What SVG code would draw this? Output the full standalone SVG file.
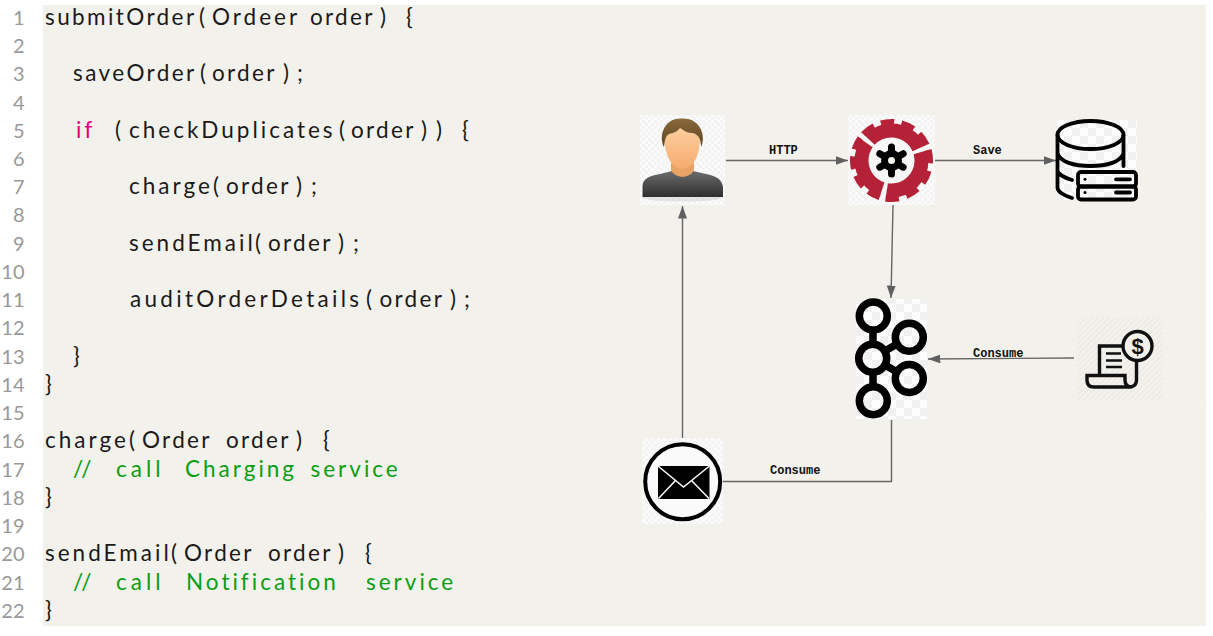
<svg xmlns="http://www.w3.org/2000/svg" width="1213" height="636" viewBox="0 0 1213 636">
<style>
.code{font-family:Lato,"Open Sans",sans-serif;font-weight:400;font-size:22.500px;fill:#1a1a1a;letter-spacing:3px}
.ord{letter-spacing:2.300px}
.tight{letter-spacing:2.400px}
.com{fill:#0a9e14}
.kw{fill:#e5007d}
.num{font-family:Lato,"Open Sans",sans-serif;font-weight:400;font-size:20px;fill:#999;text-anchor:end}
.lbl{font-family:"Liberation Mono",monospace;font-weight:700;font-size:12px;fill:#111}
.conn{fill:none;stroke:#666;stroke-width:1.4}
.k{fill:none;stroke:#000;stroke-width:7.500}
.db{fill:none;stroke:#000;stroke-width:3.800;stroke-linecap:round}
</style>
<defs>
<marker id="ah" markerUnits="userSpaceOnUse" markerWidth="13" markerHeight="10" refX="12.5" refY="4.5" orient="auto"><path d="M0 0L12.5 4.5L0 9z" fill="#606060"/></marker>
<pattern id="chk" width="16" height="16" patternUnits="userSpaceOnUse"><rect width="16" height="16" fill="#fdfdfd"/><rect width="8" height="8" fill="#f0f0f0"/><rect x="8" y="8" width="8" height="8" fill="#f0f0f0"/></pattern>
<pattern id="chk2" width="6" height="6" patternUnits="userSpaceOnUse"><rect width="6" height="6" fill="#fbfbfb"/><rect width="3" height="3" fill="#f3f3f3"/><rect x="3" y="3" width="3" height="3" fill="#f3f3f3"/></pattern>
<pattern id="hatch" width="4" height="4" patternUnits="userSpaceOnUse" patternTransform="rotate(45)"><rect width="4" height="4" fill="#f3f2ec"/><rect width="2" height="4" fill="#ecebe5"/></pattern>
<linearGradient id="hair" x1="0" y1="0" x2="0" y2="1"><stop offset="0" stop-color="#8a6a3c"/><stop offset="1" stop-color="#5f4523"/></linearGradient>
<linearGradient id="face" x1="0" y1="0" x2="0" y2="1"><stop offset="0" stop-color="#fdd0a2"/><stop offset="1" stop-color="#f6ac6e"/></linearGradient>
<linearGradient id="body" x1="0" y1="0" x2="0" y2="1"><stop offset="0" stop-color="#6c6c6c"/><stop offset="1" stop-color="#2f2f2f"/></linearGradient>
</defs>
<rect width="1213" height="636" fill="#fff"/>
<rect x="43" y="5" width="1163" height="621" fill="#f2f1eb"/>
<path d="M43 401.500H1206M43 514.500H1206" stroke="#f4f3ee" stroke-width="1"/>
<g id="line-numbers">
<text class="num" x="24.500" y="25">1</text><text class="num" x="24.500" y="53">2</text><text class="num" x="24.500" y="81">3</text><text class="num" x="24.500" y="110">4</text><text class="num" x="24.500" y="138">5</text><text class="num" x="24.500" y="166">6</text><text class="num" x="24.500" y="194">7</text><text class="num" x="24.500" y="222">8</text><text class="num" x="24.500" y="251">9</text><text class="num" x="24.500" y="279">10</text><text class="num" x="24.500" y="307">11</text><text class="num" x="24.500" y="335">12</text><text class="num" x="24.500" y="364">13</text><text class="num" x="24.500" y="392">14</text><text class="num" x="24.500" y="420">15</text><text class="num" x="24.500" y="448">16</text><text class="num" x="24.500" y="477">17</text><text class="num" x="24.500" y="505">18</text><text class="num" x="24.500" y="533">19</text><text class="num" x="24.500" y="561">20</text><text class="num" x="24.500" y="590">21</text><text class="num" x="24.500" y="618">22</text>
</g>
<g id="code">
<text class="code" y="25"><tspan class="tight" x="45">submitOrder</tspan><tspan x="199">(</tspan><tspan x="212">Ordeer</tspan> <tspan class="ord" x="310">order</tspan><tspan x="380">)</tspan> <tspan x="406">{</tspan></text>
<text class="code" y="81"><tspan class="tight" x="73">saveOrder</tspan><tspan x="200">(</tspan><tspan class="ord" x="212">order</tspan><tspan x="283">)</tspan><tspan x="297">;</tspan></text>
<text class="code" y="138"><tspan class="kw" x="76">if</tspan> <tspan x="115">(</tspan><tspan x="129">checkDuplicates</tspan><tspan x="339">(</tspan><tspan class="ord" x="351">order</tspan><tspan x="421">)</tspan><tspan x="436">)</tspan> <tspan x="462">{</tspan></text>
<text class="code" y="194"><tspan x="129">charge</tspan><tspan x="213">(</tspan><tspan class="ord" x="226">order</tspan><tspan x="296">)</tspan><tspan x="311">;</tspan></text>
<text class="code" y="251"><tspan x="129">sendEmail</tspan><tspan x="255">(</tspan><tspan class="ord" x="268">order</tspan><tspan x="338">)</tspan><tspan x="353">;</tspan></text>
<text class="code" y="307"><tspan x="130" style="letter-spacing:3.300px">auditOrderDetails</tspan><tspan x="366">(</tspan><tspan class="ord" x="379.500">order</tspan><tspan x="450">)</tspan><tspan x="464">;</tspan></text>
<text class="code" x="73" y="364">}</text>
<text class="code" x="45" y="392">}</text>
<text class="code" y="448"><tspan x="45">charge</tspan><tspan x="129">(</tspan><tspan class="ord" x="142">Order</tspan> <tspan class="ord" x="226">order</tspan><tspan x="296">)</tspan> <tspan x="323">{</tspan></text>
<text class="code com" y="477"><tspan x="73">//</tspan> <tspan style="letter-spacing:4px" x="116">call</tspan> <tspan x="185">Charging</tspan> <tspan x="310.500">service</tspan></text>
<text class="code" x="45" y="505">}</text>
<text class="code" y="561"><tspan x="45">sendEmail</tspan><tspan x="171">(</tspan><tspan class="ord" x="184">Order</tspan> <tspan class="ord" x="268">order</tspan><tspan x="338">)</tspan> <tspan x="365">{</tspan></text>
<text class="code com" y="590"><tspan x="73">//</tspan> <tspan style="letter-spacing:4px" x="116">call</tspan> <tspan x="186">Notification</tspan> <tspan x="366">service</tspan></text>
<text class="code" x="45" y="618">}</text>
</g>
<g id="connectors">
<path class="conn" d="M726 160.500H848" marker-end="url(#ah)"/>
<path class="conn" d="M935 160.500H1056" marker-end="url(#ah)"/>
<path class="conn" d="M893 205L891 298" marker-end="url(#ah)"/>
<path class="conn" d="M1074 358L928 359" marker-end="url(#ah)"/>
<path class="conn" d="M891.500 420V481.500H723"/>
<path class="conn" d="M682.500 438V206" marker-end="url(#ah)"/>
</g>
<g id="labels">
<text class="lbl" x="769" y="154">HTTP</text>
<text class="lbl" x="973" y="154">Save</text>
<text class="lbl" x="973" y="357">Consume</text>
<text class="lbl" x="770" y="474">Consume</text>
</g>
<g id="user">
<rect x="640" y="115" width="85" height="90" fill="url(#chk2)"/>
<ellipse cx="682" cy="198" rx="40" ry="3.500" fill="#000" opacity=".08"/>
<path d="M642.500 197V186C643 178 650 176 660 174L672 171H693L706 174C716 176 722 179 723 187V197Z" fill="url(#body)"/>
<path d="M671 160H694V170C690 179 675 179 671 170Z" fill="#e9a366"/>
<path d="M664.500 135C665 127 672 124 682 125C692 124 699 128 700 137C700 155 694 168 682 169C671 168 664 154 664.500 135Z" fill="url(#face)"/>
<path d="M664 147C659 138 662 118 682 118.500C702 118 706 138 701 147C701 140 699 134 692 133C686 133 684 130 680 128C677 132 673 133 669 134C665 136 665 141 664 147Z" fill="url(#hair)"/>
</g>
<g id="service">
<rect x="848" y="115" width="87" height="90" fill="url(#chk2)"/>
<g fill="none" stroke="#b52238">
<circle cx="891.500" cy="160.500" r="30" stroke-width="14" pathLength="360" stroke-dasharray="113 247" stroke-dashoffset="-223"/>
<circle cx="891.500" cy="160.500" r="30" stroke-width="14" pathLength="360" stroke-dasharray="115 245" stroke-dashoffset="-344"/>
<circle cx="891.500" cy="160.500" r="30" stroke-width="14" pathLength="360" stroke-dasharray="107 253" stroke-dashoffset="-108"/>
<circle cx="891.500" cy="160.500" r="38.500" stroke-width="6" pathLength="360" stroke-dasharray="20 11 20 11 20 11 20 247" stroke-dashoffset="-223"/>
<circle cx="891.500" cy="160.500" r="38.500" stroke-width="6" pathLength="360" stroke-dasharray="20 11.600 20 11.600 20 11.600 20 245" stroke-dashoffset="-344"/>
<circle cx="891.500" cy="160.500" r="38.500" stroke-width="6" pathLength="360" stroke-dasharray="19 10.600 19 10.600 19 10.600 19 253" stroke-dashoffset="-108"/>
</g>
<g stroke="#000" stroke-width="7" stroke-linecap="round">
<path d="M891.500 147V174M879.800 153.700L903.200 167.200M879.800 167.200L903.200 153.700"/>
</g>
<circle cx="891.500" cy="160.500" r="10.500" fill="#000"/>
<circle cx="891.500" cy="160.500" r="3.500" fill="#f4f3ee"/>
</g>
<g id="database">
<rect x="1057" y="120" width="80" height="80" fill="url(#chk)"/>
<ellipse class="db" cx="1090.500" cy="135" rx="33" ry="14"/>
<path class="db" d="M1057.500 135V188C1058 192 1065 196 1072 198M1123.500 135V166M1057.500 153C1060 162 1074 166 1090.500 166C1107 166 1121 162 1123.500 153M1057.500 171C1059 175 1065 178 1072 180"/>
<rect class="db" x="1078" y="172" width="58" height="14.500" rx="3" fill="#fff"/>
<rect class="db" x="1078" y="186.500" width="58" height="13" rx="3" fill="#fff"/>
<circle cx="1085" cy="179.300" r="1.500"/><circle cx="1085" cy="192.500" r="1.500"/>
<path class="db" d="M1116 179.300H1130M1116 192.500H1130"/>
</g>
<g id="kafka">
<rect x="856" y="299" width="71" height="120" fill="url(#chk)"/>
<path class="k" d="M873 330V344M873 372V387M885 351L897 344M885 365L897 372"/>
<circle class="k" cx="873.300" cy="316" r="14"/>
<circle class="k" cx="909.300" cy="337.300" r="14"/>
<circle class="k" cx="872.700" cy="358.300" r="14"/>
<circle class="k" cx="909.300" cy="378.500" r="14"/>
<circle class="k" cx="873.300" cy="400.700" r="14"/>
</g>
<g id="billing">
<rect x="1077" y="317" width="86" height="83" fill="url(#hatch)"/>
<path d="M1099.500 375V346H1122M1136.500 360V380C1136.500 385 1133 387 1129 387H1094C1089 387 1087 384 1087 380V375.500H1125V380C1125 385 1128 387 1132 387" fill="none" stroke="#111" stroke-width="3.400"/>
<path d="M1106 353.500H1121M1106 360.500H1122M1106 367H1122" fill="none" stroke="#111" stroke-width="2.600"/>
<circle cx="1137.500" cy="346" r="14.500" fill="#f2f1eb" stroke="#111" stroke-width="3.400"/>
<text x="1137.500" y="354" font-family="Liberation Sans, sans-serif" font-weight="700" font-size="22" text-anchor="middle" fill="#111">$</text>
</g>
<g id="email">
<rect x="642" y="438" width="81" height="86" fill="url(#chk2)"/>
<circle cx="682.700" cy="481.700" r="37.500" fill="#fafafa" stroke="#000" stroke-width="4"/>
<rect x="658" y="466" width="51.500" height="33" fill="#000"/>
<path d="M658 466L683.500 487L709.500 466M658.500 498.500L675 481M709 498.500L692 481" fill="none" stroke="#f5f5f5" stroke-width="1.600"/>
</g>
</svg>
